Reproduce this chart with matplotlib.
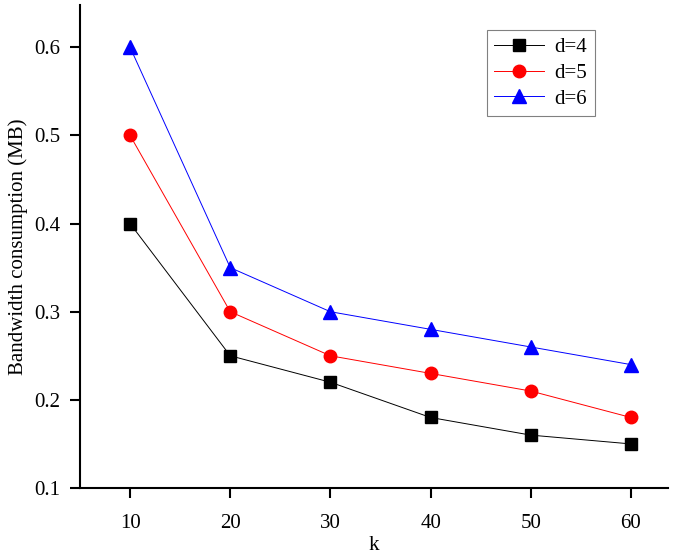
import matplotlib
matplotlib.use("Agg")
import matplotlib.pyplot as plt

k = [10, 20, 30, 40, 50, 60]
d4 = [0.40, 0.25, 0.22, 0.18, 0.16, 0.15]
d5 = [0.50, 0.30, 0.25, 0.23, 0.21, 0.18]
d6 = [0.60, 0.35, 0.30, 0.28, 0.26, 0.24]
yticks = [0.1, 0.2, 0.3, 0.4, 0.5, 0.6]

plt.rcParams['font.family'] = ['Liberation Serif', 'DejaVu Serif']
plt.rcParams['font.size'] = 15

fig = plt.figure(figsize=(6.85, 5.58), dpi=100)
ax = fig.add_axes([80/685, 70/558, 588/685, 483/558])

ax.plot(k, d4, color='black', lw=0.7, marker='s', ms=8, mfc='black', mec='black', label='d=4')
ax.plot(k, d5, color='red', lw=0.7, marker='o', ms=9, mfc='red', mec='red', label='d=5')
ax.plot(k, d6, color='blue', lw=0.7, marker='^', ms=10, mfc='blue', mec='blue', label='d=6')

ax.set_xlim(5, 63.7)
ax.set_ylim(0.1, 0.648)
ax.set_xticks(k)
ax.set_yticks(yticks)
ax.set_yticklabels([f"{v:.1f}" for v in yticks])
ax.spines['top'].set_visible(False)
ax.spines['right'].set_visible(False)
for s in ['left', 'bottom']:
    ax.spines[s].set_linewidth(1.5)
ax.tick_params(direction='out', length=7, width=1.5)
ax.tick_params(axis='x', pad=12)
ax.tick_params(axis='y', pad=7)
ax.set_xlabel('k')
ax.set_ylabel('Bandwidth consumption (MB)')
ax.xaxis.set_label_coords(0.5, -0.1)
ax.yaxis.set_label_coords(-0.088, 0.5)

leg = ax.legend(loc='upper left', bbox_to_anchor=(0.692, 0.948), borderaxespad=0,
                fancybox=False, edgecolor='gray', framealpha=1, handlelength=2.4,
                borderpad=0.35, labelspacing=0.3, handletextpad=0.5)
leg.get_frame().set_linewidth(0.8)

fig.savefig('out.png', dpi=100)
